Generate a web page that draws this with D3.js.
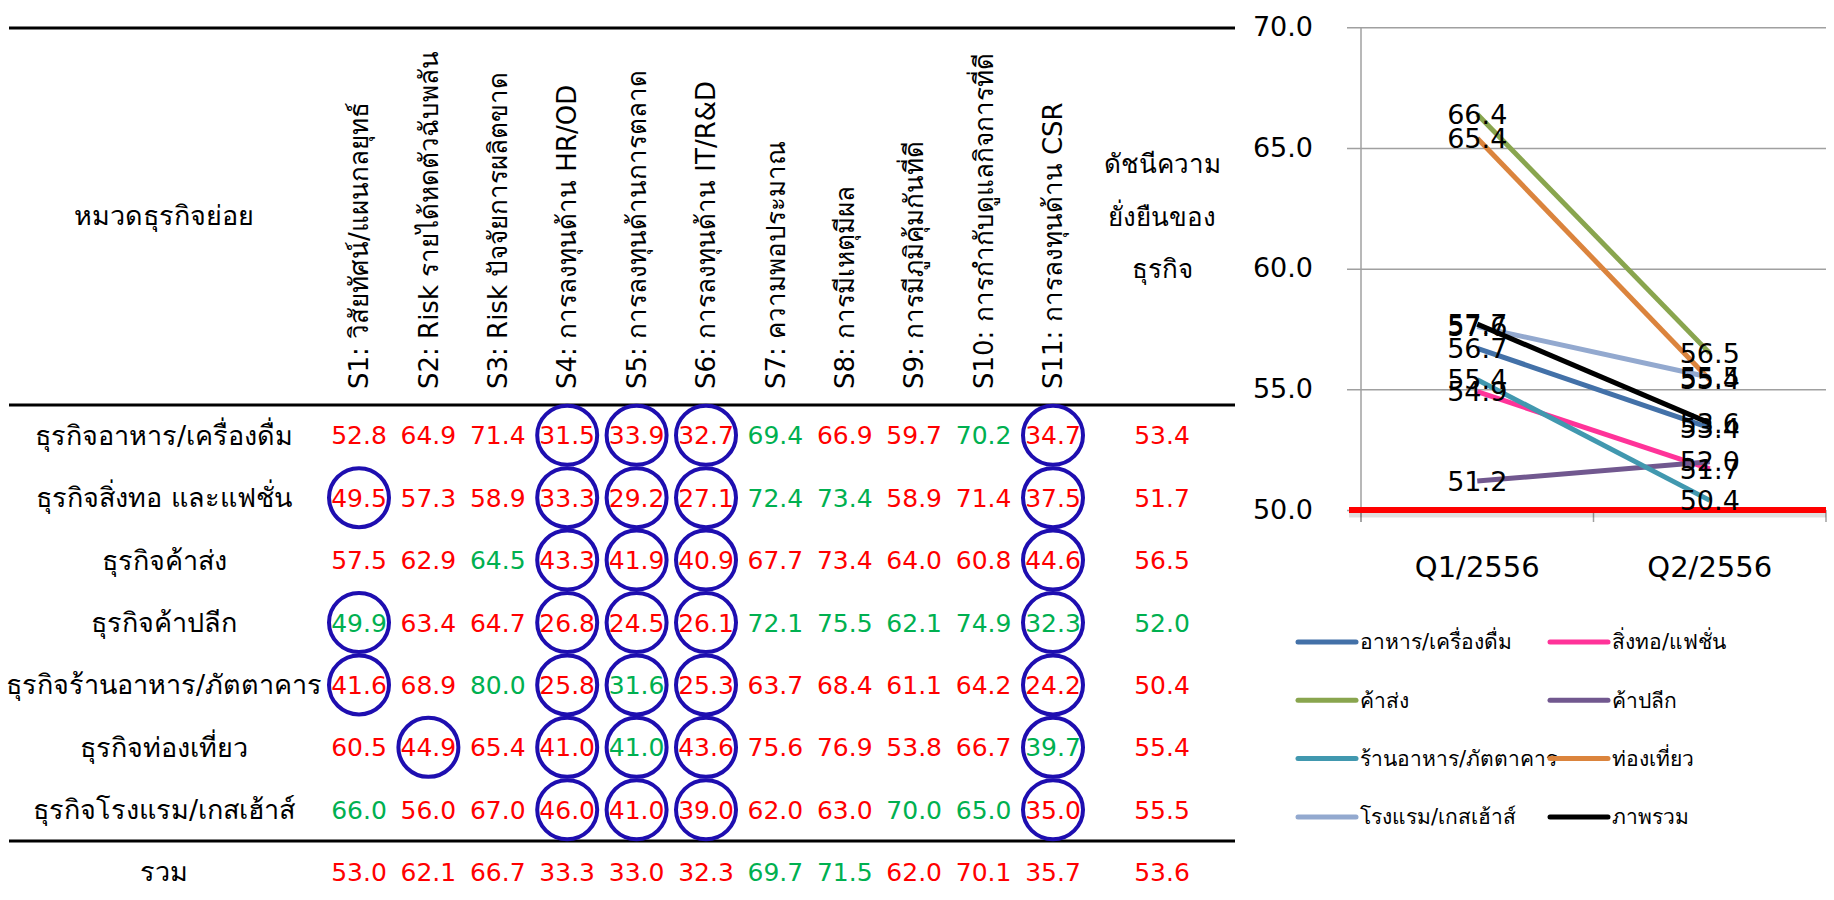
<!DOCTYPE html>
<html>
<head>
<meta charset="utf-8">
<script src="https://cdn.jsdelivr.net/npm/d3@7"></script>
<style>
  html, body { margin: 0; padding: 0; background: #fff; }
  svg { display: block; }
  text { font-family: "DejaVu Sans", "Noto Sans", sans-serif; }
</style>
</head>
<body>
<svg id="chart" width="1834" height="900"></svg>
<script>
// ---------------- DATA ----------------
const columnKeys = ["S1","S2","S3","S4","S5","S6","S7","S8","S9","S10","S11"];
const columnHeaders = [
  "S1: วิสัยทัศน์/แผนกลยุทธ์",
  "S2: Risk รายได้หดตัวฉับพลัน",
  "S3: Risk ปัจจัยการผลิตขาด",
  "S4: การลงทุนด้าน HR/OD",
  "S5: การลงทุนด้านการตลาด",
  "S6: การลงทุนด้าน IT/R&D",
  "S7: ความพอประมาณ",
  "S8: การมีเหตุมีผล",
  "S9: การมีภูมิคุ้มกันที่ดี",
  "S10: การกำกับดูแลกิจการที่ดี",
  "S11: การลงทุนด้าน CSR"
];
const rowHeader = "หมวดธุรกิจย่อย";
const indexHeader = ["ดัชนีความ", "ยั่งยืนของ", "ธุรกิจ"];
const rowLabels = [
  "ธุรกิจอาหาร/เครื่องดื่ม",
  "ธุรกิจสิ่งทอ และแฟชั่น",
  "ธุรกิจค้าส่ง",
  "ธุรกิจค้าปลีก",
  "ธุรกิจร้านอาหาร/ภัตตาคาร",
  "ธุรกิจท่องเที่ยว",
  "ธุรกิจโรงแรม/เกสเฮ้าส์"
];
const totalLabel = "รวม";
const rowValues = [
  [52.8, 64.9, 71.4, 31.5, 33.9, 32.7, 69.4, 66.9, 59.7, 70.2, 34.7],
  [49.5, 57.3, 58.9, 33.3, 29.2, 27.1, 72.4, 73.4, 58.9, 71.4, 37.5],
  [57.5, 62.9, 64.5, 43.3, 41.9, 40.9, 67.7, 73.4, 64.0, 60.8, 44.6],
  [49.9, 63.4, 64.7, 26.8, 24.5, 26.1, 72.1, 75.5, 62.1, 74.9, 32.3],
  [41.6, 68.9, 80.0, 25.8, 31.6, 25.3, 63.7, 68.4, 61.1, 64.2, 24.2],
  [60.5, 44.9, 65.4, 41.0, 41.0, 43.6, 75.6, 76.9, 53.8, 66.7, 39.7],
  [66.0, 56.0, 67.0, 46.0, 41.0, 39.0, 62.0, 63.0, 70.0, 65.0, 35.0]
];
const totalValues = [53.0, 62.1, 66.7, 33.3, 33.0, 32.3, 69.7, 71.5, 62.0, 70.1, 35.7];
const rowIndex = [53.4, 51.7, 56.5, 52.0, 50.4, 55.4, 55.5];
const totalIndex = 53.6;
// trend vs previous quarter: "+" up, "-" down (S1..S11 then index)
const rowTrend = [
  "------+--+--",
  "------++----",
  "--+---------",
  "+-----++++++",
  "--+-+-------",
  "----+-----+-",
  "+-------++--"
];
const totalTrend = "------++----";
const circleThreshold = 50;

const quarters = ["Q1/2556", "Q2/2556"];
const seriesNames = ["อาหาร/เครื่องดื่ม", "สิ่งทอ/แฟชั่น", "ค้าส่ง", "ค้าปลีก",
                     "ร้านอาหาร/ภัตตาคาร", "ท่องเที่ยว", "โรงแรม/เกสเฮ้าส์", "ภาพรวม"];
const seriesQ1 = [56.7, 54.9, 66.4, 51.2, 55.4, 65.4, 57.6, 57.7];
const seriesQ2 = [53.4, 51.7, 56.5, 52.0, 50.4, 55.4, 55.5, 53.6];
const seriesColors = ["#4371A8", "#FF3399", "#89A54E", "#71588F",
                      "#4198AF", "#DB843D", "#93A9CF", "#000000"];
const yTicks = [50, 55, 60, 65, 70];
const baselineValue = 50;

// ---------------- DRAW ----------------
const svg = d3.select("#chart");
const RED = "#FF0000", GREEN = "#00B050", CIRCLE = "#1E0EB0";
const numFont = 25;
const thaiFont = 27;

// table scales
const colX = d3.scaleBand().domain(columnKeys).range([324.3, 1087.7]);
const cx = k => colX(k) + colX.bandwidth() / 2;
const indexX = 1162;
const labelX = 164;
const rowY = d3.scaleBand().domain(d3.range(rowLabels.length)).range([404, 841]);
const ry = i => rowY(i) + rowY.bandwidth() / 2;
const totalY = 872;

const table = svg.append("g");
// rules
[[28, 3], [405, 3], [841, 3]].forEach(([y, w]) => {
  table.append("line").attr("x1", 9).attr("x2", 1235).attr("y1", y).attr("y2", y)
    .attr("stroke", "#000").attr("stroke-width", w);
});

// header
table.append("text").attr("x", labelX).attr("y", 216).attr("text-anchor", "middle")
  .attr("dy", "0.35em").attr("font-size", thaiFont).text(rowHeader);
table.selectAll("text.idxh").data(indexHeader).join("text").attr("class", "idxh")
  .attr("x", indexX).attr("y", (d, i) => 164 + i * 52.5).attr("text-anchor", "middle")
  .attr("dy", "0.35em").attr("font-size", 26).text(d => d);
table.selectAll("text.colh").data(columnHeaders).join("text").attr("class", "colh")
  .attr("transform", (d, i) => `translate(${cx(columnKeys[i])},389) rotate(-90)`)
  .attr("dy", "0.35em").attr("font-size", 26).text(d => d);

// rows
const rows = table.selectAll("g.row").data(rowValues).join("g").attr("class", "row")
  .attr("transform", (d, i) => `translate(0,${ry(i)})`);
rows.append("text").attr("x", labelX).attr("text-anchor", "middle").attr("dy", "0.35em")
  .attr("font-size", thaiFont).text((d, i) => rowLabels[i]);
rows.each(function (vals, i) {
  const g = d3.select(this);
  const cells = vals.map((v, j) => ({ v, k: columnKeys[j], up: rowTrend[i][j] === "+" }));
  g.selectAll("ellipse").data(cells.filter(c => c.v < circleThreshold)).join("ellipse")
    .attr("cx", c => cx(c.k)).attr("cy", 0).attr("rx", 30).attr("ry", 29.5)
    .attr("fill", "none").attr("stroke", CIRCLE).attr("stroke-width", 4);
  g.selectAll("text.val").data(cells).join("text").attr("class", "val")
    .attr("x", c => cx(c.k)).attr("text-anchor", "middle").attr("dy", "0.36em")
    .attr("font-size", numFont).attr("fill", c => c.up ? GREEN : RED)
    .text(c => c.v.toFixed(1));
  g.append("text").attr("x", indexX).attr("text-anchor", "middle").attr("dy", "0.36em")
    .attr("font-size", numFont).attr("fill", rowTrend[i][11] === "+" ? GREEN : RED)
    .text(rowIndex[i].toFixed(1));
});
// total row
const tg = table.append("g").attr("transform", `translate(0,${totalY})`);
tg.append("text").attr("x", labelX).attr("text-anchor", "middle").attr("dy", "0.35em")
  .attr("font-size", thaiFont).text(totalLabel);
tg.selectAll("text.val").data(totalValues).join("text").attr("class", "val")
  .attr("x", (v, j) => cx(columnKeys[j])).attr("text-anchor", "middle").attr("dy", "0.36em")
  .attr("font-size", numFont).attr("fill", (v, j) => totalTrend[j] === "+" ? GREEN : RED)
  .text(v => v.toFixed(1));
tg.append("text").attr("x", indexX).attr("text-anchor", "middle").attr("dy", "0.36em")
  .attr("font-size", numFont).attr("fill", totalTrend[11] === "+" ? GREEN : RED)
  .text(totalIndex.toFixed(1));

// ---------------- LINE CHART ----------------
const plotL = 1361, plotR = 1826;
const x = d3.scaleBand().domain(quarters).range([plotL, plotR]);
const y = d3.scaleLinear().domain([50, 70]).range([510, 27.3]);
const lc = svg.append("g");

const yAxis = d3.axisLeft(y).tickValues(yTicks).tickFormat(d3.format(".1f"))
  .tickSizeInner(-(plotR - 1347)).tickSizeOuter(0).tickPadding(34);
const ya = lc.append("g").attr("transform", "translate(1347,0)").call(yAxis);
ya.select(".domain").remove();
ya.selectAll(".tick line").attr("stroke", "#A0A0A0").attr("stroke-width", 1.5);
ya.selectAll(".tick text").attr("font-size", 27).attr("fill", "#000")
  .attr("font-family", "DejaVu Sans").attr("dy", "0.3em");

// vertical axis line
lc.append("line").attr("x1", plotL).attr("x2", plotL).attr("y1", y(70)).attr("y2", y(50) + 12)
  .attr("stroke", "#A0A0A0").attr("stroke-width", 1.5);
// category boundary ticks
lc.selectAll("line.ctick").data([...quarters.map(q => x(q)), plotR]).join("line")
  .attr("class", "ctick").attr("x1", d => d).attr("x2", d => d)
  .attr("y1", y(50)).attr("y2", y(50) + 12).attr("stroke", "#A0A0A0").attr("stroke-width", 1.5);

const xAxis = d3.axisBottom(x).tickSize(0).tickPadding(46);
const xa = lc.append("g").attr("transform", `translate(0,${y(50)})`).call(xAxis);
xa.select(".domain").remove();
xa.selectAll(".tick text").attr("font-size", 29).attr("fill", "#000").attr("font-family", "DejaVu Sans");

// baseline shadow + red line
lc.append("line").attr("x1", 1349).attr("x2", plotR).attr("y1", y(baselineValue) + 5).attr("y2", y(baselineValue) + 5)
  .attr("stroke", "#000").attr("stroke-opacity", 0.12).attr("stroke-width", 5);
lc.append("line").attr("x1", 1349).attr("x2", plotR).attr("y1", y(baselineValue)).attr("y2", y(baselineValue))
  .attr("stroke", RED).attr("stroke-width", 6);

const series = seriesNames.map((n, i) => ({
  name: n, color: seriesColors[i],
  pts: [{ q: quarters[0], v: seriesQ1[i] }, { q: quarters[1], v: seriesQ2[i] }]
}));
const line = d3.line().x(p => x(p.q) + x.bandwidth() / 2).y(p => y(p.v));
lc.selectAll("path.ser").data(series).join("path").attr("class", "ser")
  .attr("d", s => line(s.pts)).attr("fill", "none").attr("stroke", s => s.color)
  .attr("stroke-width", 5).attr("stroke-linecap", "butt");
series.forEach(s => {
  lc.selectAll(null).data(s.pts).join("text")
    .attr("x", p => x(p.q) + x.bandwidth() / 2).attr("y", p => y(p.v))
    .attr("dy", "0.36em").attr("text-anchor", "middle").attr("font-size", 27)
    .attr("fill", "#000").text(p => p.v.toFixed(1));
});

// legend
const legX = [1298, 1550], legY0 = 642, legDy = 58.3;
const leg = lc.selectAll("g.leg").data(series).join("g").attr("class", "leg")
  .attr("transform", (s, i) => `translate(${legX[i % 2]},${legY0 + Math.floor(i / 2) * legDy})`);
leg.append("line").attr("x1", 0).attr("x2", 58).attr("stroke", s => s.color)
  .attr("stroke-width", 5).attr("stroke-linecap", "round");
leg.append("text").attr("x", 62).attr("dy", "0.35em").attr("font-size", 21)
  .attr("fill", "#000").text(s => s.name);
</script>
</body>
</html>
